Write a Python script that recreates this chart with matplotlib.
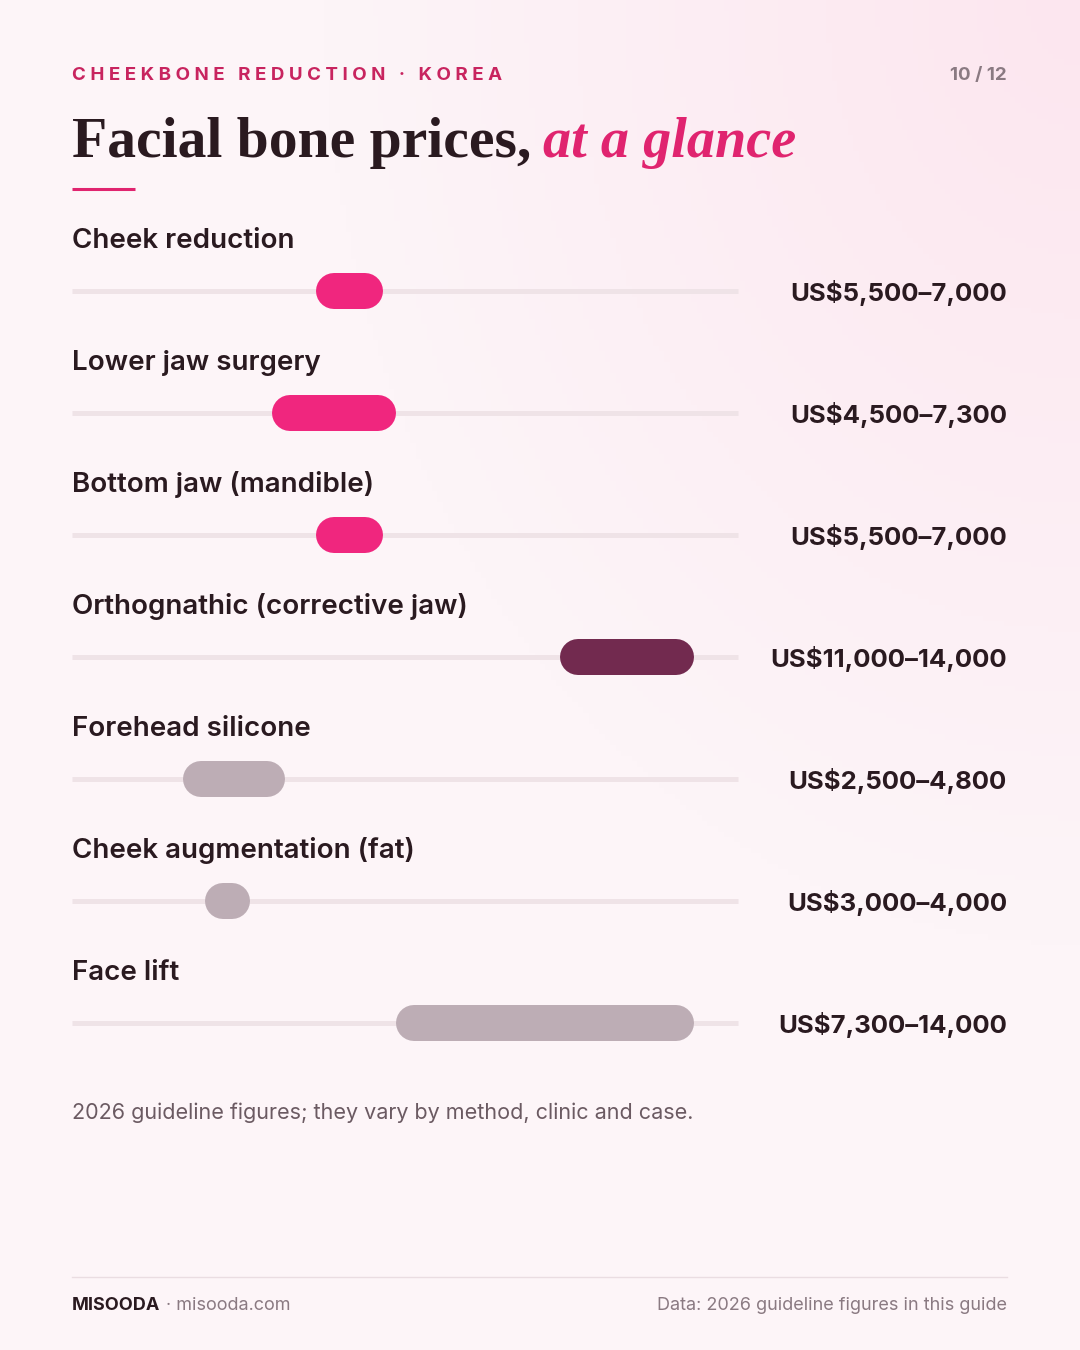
import matplotlib
matplotlib.use("Agg")
import matplotlib.pyplot as plt
import numpy as np

procedures = ["Cheek reduction", "Lower jaw surgery", "Bottom jaw (mandible)",
              "Orthognathic (corrective jaw)", "Forehead silicone",
              "Cheek augmentation (fat)", "Face lift"]
low = [5500, 4500, 5500, 11000, 2500, 3000, 7300]
high = [7000, 7300, 7000, 14000, 4800, 4000, 14000]
labels = ["US$5,500–7,000", "US$4,500–7,300", "US$5,500–7,000", "US$11,000–14,000",
          "US$2,500–4,800", "US$3,000–4,000", "US$7,300–14,000"]
colors = ["#f0267e", "#f0267e", "#f0267e", "#722a4f", "#bdadb5", "#bdadb5", "#bdadb5"]
scale_max = 15000

PINK = "#c8245f"; DARK = "#2a1a20"; GREY = "#6b5a62"
W, H = 1080, 1350
fig = plt.figure(figsize=(10.8, 13.5), dpi=100)
fig.patch.set_facecolor("#fdf5f8")
ax = fig.add_axes([0, 0, 1, 1])
ax.axis("off")
gx, gy = np.meshgrid(np.linspace(0, 1, 200), np.linspace(0, 1, 250))
g = np.clip(1 - np.hypot(1 - gx, gy) / 0.7, 0, 1)
base = np.array([0xfd, 0xf5, 0xf8]) / 255; tint = np.array([0xfc, 0xe6, 0xef]) / 255
bg = base + (tint - base) * g[..., None]
x0px, x1px = 72, 738
span = x1px - x0px
xl = -x0px / span * scale_max
xr = scale_max + (W - x1px) / span * scale_max
ax.imshow(bg, extent=[xl, xr, H, 0], aspect="auto", zorder=0)
ax.set_xlim(xl, xr); ax.set_ylim(H, 0)
px = scale_max / span

def t(x, y, s, **kw):
    return ax.text(xl + x * px, y, s, **kw)

FONT = "Inter"
header = "CHEEKBONE REDUCTION · KOREA"
t(72, 75, "   ".join(" ".join(w) for w in header.split(" ")),
  fontsize=13.5, color=PINK, fontweight="bold", family=FONT, va="center")
t(1007, 75, "10 / 12", fontsize=13.5, color="#8a7a82", fontweight="bold", family=FONT, va="center", ha="right")
t(72, 157, "Facial bone prices,", fontsize=41.5, color=DARK, fontweight="bold",
  family="Liberation Serif", va="baseline")
t(543, 157, "at a glance", fontsize=40.5, color="#e0246f", fontweight="bold",
  style="italic", family="Liberation Serif", va="baseline")
ax.plot([0, 63 * px], [189, 189], color="#e0246f", lw=2.2, solid_capstyle="butt")

bar_h = 36
for i, (name, lo, hi, lab, c) in enumerate(zip(procedures, low, high, labels, colors)):
    yc = 291 + 122 * i
    t(72, yc - 50, name, fontsize=20, color=DARK, family=FONT, fontweight="semibold", va="center")
    ax.plot([0, scale_max], [yc, yc], color="#efe3e7", lw=5 * 0.72, solid_capstyle="butt", zorder=1)
    r = bar_h / 2 * px
    ax.plot([lo + r, hi - r], [yc, yc], color=c, lw=bar_h * 0.72, solid_capstyle="round", zorder=2)
    t(1007, yc + 2, lab, fontsize=18.5, color=DARK, family=FONT, fontweight="bold", va="center", ha="right")

t(72, 1113, "2026 guideline figures; they vary by method, clinic and case.", fontsize=15.5,
  color=GREY, family=FONT, va="center")
ax.plot([0, (1007 - 72) * px], [1277, 1277], color="#eadde2", lw=1)
t(72, 1306, "MISOODA", fontsize=13, color=DARK, fontweight="bold", family=FONT, va="center")
t(166, 1306, "· misooda.com", fontsize=13, color="#8a7a82", family=FONT, va="center")
t(1007, 1306, "Data: 2026 guideline figures in this guide", fontsize=13, color="#8a7a82",
  family=FONT, va="center", ha="right")
fig.savefig("out.png", dpi=100, facecolor=fig.get_facecolor())
